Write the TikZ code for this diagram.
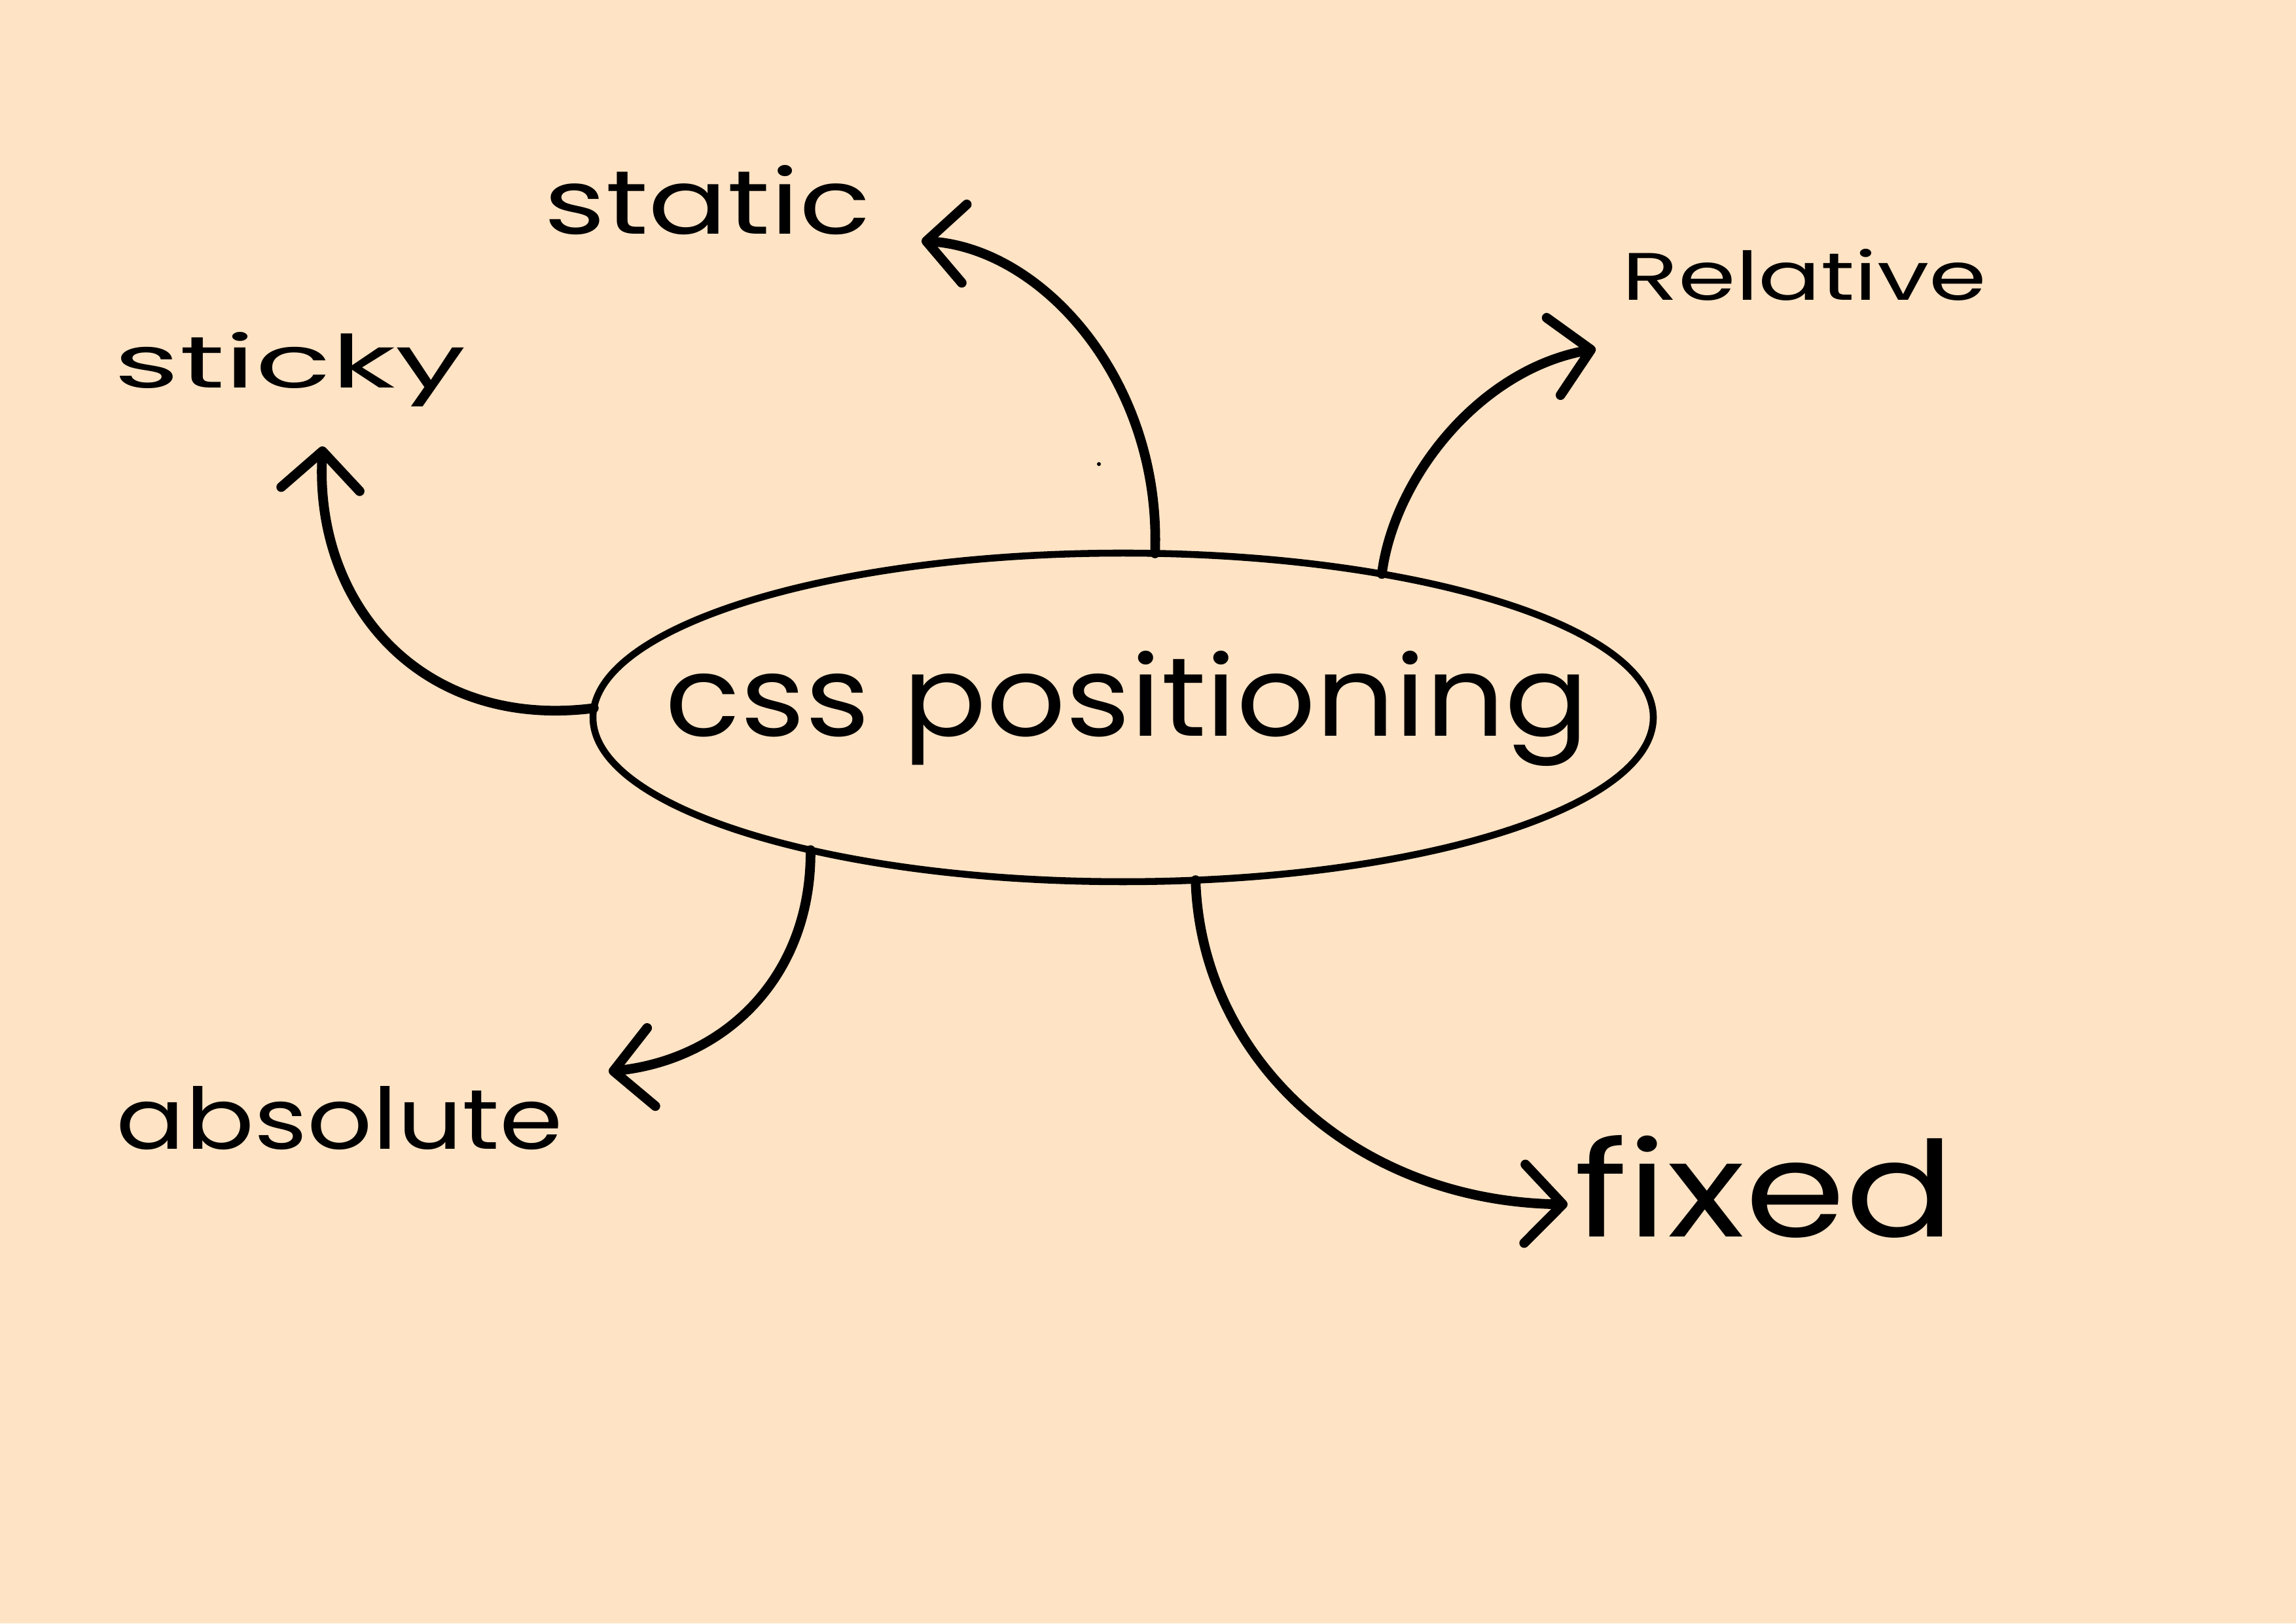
\documentclass[tikz,border=0pt]{standalone}
\usepackage{fontspec}
\setmainfont{Poppins}
\usetikzlibrary{shapes.geometric,arrows.meta}
\definecolor{bgpeach}{RGB}{254,227,196}
\tikzset{
  arr/.style={line width=4.2pt, line cap=round,
    -{Straight Barb[length=0.58cm,width=1.2cm,line cap=round,line join=round]}},
  lbl/.style={anchor=base, inner sep=0pt, font=\fontsize{60}{60}\selectfont},
}
\begin{document}
\begin{tikzpicture}
\useasboundingbox (0,0) rectangle (35.08,24.80);
\fill[bgpeach] (0,0) rectangle (35.08,24.80);
% central ellipse
\node[ellipse, draw, line width=3pt, minimum width=16.2cm, minimum height=5.02cm,
      inner sep=0pt, outer sep=0pt] (css) at (17.16,13.84) {};
\node[anchor=base, inner sep=0pt] (csstext) at (17.22,13.55)
  {\resizebox{14.1cm}{1.3cm}{css positioning}};
% labels
\node[lbl] (static) at (10.81,21.22) {\resizebox{4.99cm}{1.05cm}{static}};
\node[lbl] (relative) at (27.57,20.21) {\resizebox{5.57cm}{0.78cm}{Relative}};
\node[lbl] (sticky) at (4.43,18.87) {\resizebox{5.37cm}{0.85cm}{sticky}};
\node[lbl] (absolute) at (5.19,7.24) {\resizebox{6.82cm}{0.96cm}{absolute}};
\node[lbl] (fixed) at (26.96,5.90) {\resizebox{5.81cm}{1.55cm}{fixed}};
% arrow ends
\coordinate (eStatic) at (14.08,21.12);
\coordinate (eRel) at (24.38,19.47);
\coordinate (eSticky) at (4.93,17.98);
\coordinate (eAbs) at (9.30,8.43);
\coordinate (eFixed) at (23.95,6.40);
% arrows
\draw[arr] (css.79) .. controls (17.75,18.95) and (15.95,21.0) .. (eStatic);
\draw[arr] (css.29) .. controls (21.30,17.50) and (22.60,19.15) .. (eRel);
\draw[arr] (css.179) .. controls (6.50,13.65) and (4.80,15.50) .. (eSticky);
\draw[arr] (css.203.5) .. controls (12.40,9.90) and (11.10,8.62) .. (eAbs);
\draw[arr] (css.294.6) .. controls (18.35,8.63) and (20.70,6.45) .. (eFixed);
% stray dot
\fill (16.79,17.71) circle (0.03);
\end{tikzpicture}
\end{document}
